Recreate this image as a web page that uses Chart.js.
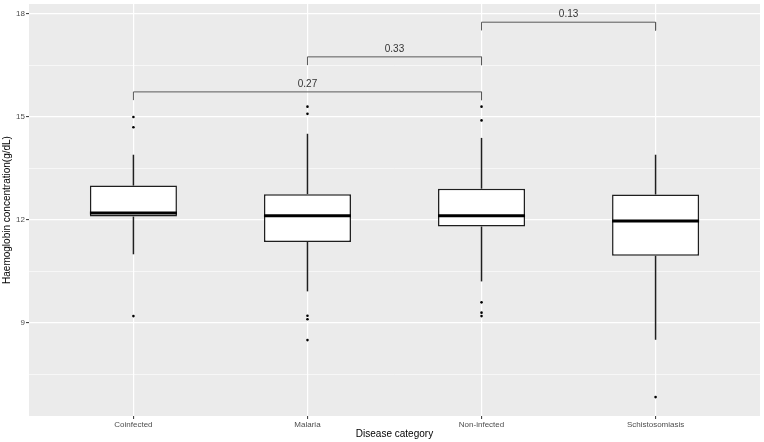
<!DOCTYPE html>
<html>
<head>
<meta charset="utf-8">
<script src="https://cdn.jsdelivr.net/npm/chart.js@4.4.0/dist/chart.umd.min.js"></script>
<style>
  html, body { margin: 0; padding: 0; background: #ffffff; }
  #wrap { width: 764px; height: 442px; }
</style>
</head>
<body>
<div id="wrap"><canvas id="chart" width="764" height="442"></canvas></div>
<script>
// boxplot summary per disease category (g/dL)
const categories = ['Coinfected', 'Malaria', 'Non-infected', 'Schistosomiasis'];
const whiskerLow = [11.0, 9.92, 10.21, 8.51];
const q1 = [12.1, 11.36, 11.81, 10.96];
const median = [12.2, 12.12, 12.12, 11.97];
const q3 = [13.0, 12.75, 12.91, 12.74];
const whiskerHigh = [13.9, 14.51, 14.39, 13.9];
const outliers = [
    [9.2, 14.7, 15.0],
    [8.5, 9.11, 9.21, 15.09, 15.3],
    [9.2, 9.3, 9.6, 14.9, 15.3],
    [6.84]
];

// pairwise comparison brackets (category positions are 1-based)
const bracketFrom = [1, 2, 3];
const bracketTo = [3, 3, 4];
const bracketY = [15.73, 16.75, 17.76];
const bracketLabels = ['0.27', '0.33', '0.13'];
const bracketTip = 0.24;

const yTickValues = [7.5, 9, 10.5, 12, 13.5, 15, 16.5, 18];
const yTickLabels = ['', '9', '', '12', '', '15', '', '18'];

const FONT = '"Liberation Sans", Arial, Helvetica, sans-serif';
const BOX_HALF = 0.25;
const INK = '#1f1f1f';

Chart.defaults.font.family = FONT;

const datasets = [];

// whiskers
categories.forEach((c, i) => {
    datasets.push({
        type: 'line',
        data: [{ x: i + 1, y: whiskerLow[i] }, { x: i + 1, y: q1[i] }],
        borderColor: INK, borderWidth: 1.5, pointRadius: 0, fill: false, order: 3
    });
    datasets.push({
        type: 'line',
        data: [{ x: i + 1, y: q3[i] }, { x: i + 1, y: whiskerHigh[i] }],
        borderColor: INK, borderWidth: 1.5, pointRadius: 0, fill: false, order: 3
    });
});

// boxes
datasets.push({
    type: 'bar',
    data: categories.map((c, i) => ({ x: i + 1, y: [q1[i], q3[i]] })),
    backgroundColor: '#ffffff',
    borderColor: INK,
    borderWidth: 1.5,
    borderSkipped: false,
    categoryPercentage: 0.5,
    barPercentage: 1.0,
    order: 2
});

// medians
categories.forEach((c, i) => {
    datasets.push({
        type: 'line',
        data: [{ x: i + 1 - BOX_HALF, y: median[i] }, { x: i + 1 + BOX_HALF, y: median[i] }],
        borderColor: '#000000', borderWidth: 3, pointRadius: 0, fill: false, order: 1
    });
});

// outliers
datasets.push({
    type: 'scatter',
    data: outliers.flatMap((vals, i) => vals.map(v => ({ x: i + 1, y: v }))),
    backgroundColor: '#000000',
    borderWidth: 0,
    pointRadius: 1.3,
    order: 0
});

// brackets
bracketY.forEach((yv, i) => {
    datasets.push({
        type: 'line',
        data: [
            { x: bracketFrom[i], y: yv - bracketTip },
            { x: bracketFrom[i], y: yv },
            { x: bracketTo[i], y: yv },
            { x: bracketTo[i], y: yv - bracketTip }
        ],
        borderColor: '#595959', borderWidth: 1, pointRadius: 0, fill: false,
        tension: 0, order: 0
    });
});

const panelBackground = {
    id: 'panelBackground',
    beforeDraw(chart) {
        const { ctx, chartArea: { left, top, width, height } } = chart;
        ctx.save();
        ctx.fillStyle = '#EBEBEB';
        ctx.fillRect(left, top, width, height);
        ctx.restore();
    }
};

const bracketText = {
    id: 'bracketText',
    afterDatasetsDraw(chart) {
        const { ctx, scales: { x, y } } = chart;
        ctx.save();
        ctx.font = '10px ' + FONT;
        ctx.fillStyle = '#333333';
        ctx.textAlign = 'center';
        ctx.textBaseline = 'bottom';
        bracketLabels.forEach((t, i) => {
            const px = x.getPixelForValue((bracketFrom[i] + bracketTo[i]) / 2);
            const py = y.getPixelForValue(bracketY[i]);
            ctx.fillText(t, px, py - 3);
        });
        ctx.restore();
    }
};

const isMajor = v => v % 3 === 0;

new Chart(document.getElementById('chart'), {
    type: 'bar',
    data: { datasets },
    options: {
        responsive: false,
        animation: false,
        layout: { padding: { top: 2, right: 1, left: 0, bottom: 0 } },
        plugins: {
            legend: { display: false },
            tooltip: { enabled: false }
        },
        scales: {
            x: {
                type: 'linear',
                min: 0.4,
                max: 4.6,
                offset: false,
                afterBuildTicks: s => { s.ticks = categories.map((c, i) => ({ value: i + 1 })); },
                afterFit: s => {
                    s.height = 26;
                    s.paddingLeft = 0;
                    s.paddingRight = 0;
                },
                grid: {
                    offset: false,
                    color: '#ffffff',
                    lineWidth: 1.2,
                    tickLength: 3,
                    tickColor: '#333333',
                    tickWidth: 1
                },
                border: { display: false },
                ticks: {
                    autoSkip: false,
                    maxRotation: 0,
                    padding: 1,
                    color: '#4d4d4d',
                    font: { size: 8 },
                    callback: v => categories[v - 1]
                },
                title: {
                    display: true,
                    text: 'Disease category',
                    color: '#000000',
                    font: { size: 10 },
                    padding: { top: 0, bottom: 2 }
                }
            },
            y: {
                min: 6.29,
                max: 18.29,
                afterBuildTicks: s => { s.ticks = yTickValues.map(v => ({ value: v })); },
                afterFit: s => {
                    s.width = 29;
                    s.paddingTop = 0;
                    s.paddingBottom = 0;
                },
                grid: {
                    color: '#ffffff',
                    lineWidth: c => isMajor(c.tick.value) ? 1.2 : 0.6,
                    tickLength: 3,
                    tickColor: c => isMajor(c.tick.value) ? '#333333' : 'rgba(0,0,0,0)',
                    tickWidth: 1
                },
                border: { display: false },
                ticks: {
                    padding: 1,
                    color: '#4d4d4d',
                    font: { size: 8 },
                    callback: (v, i) => yTickLabels[yTickValues.indexOf(v)] || ''
                },
                title: {
                    display: true,
                    text: 'Haemoglobin concentration(g/dL)',
                    color: '#000000',
                    font: { size: 10 },
                    padding: { top: 1.5, bottom: 0 }
                }
            }
        }
    },
    plugins: [panelBackground, bracketText]
});
</script>
</body>
</html>
